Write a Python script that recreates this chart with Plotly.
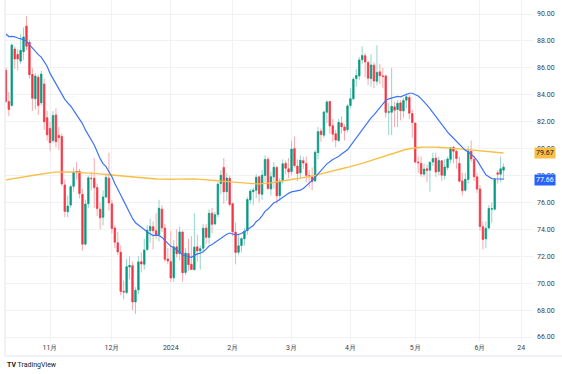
import plotly.graph_objects as go
import pandas as pd

dates = [
    "2023-10-11", "2023-10-12", "2023-10-13", "2023-10-16", "2023-10-17", "2023-10-18", "2023-10-19", "2023-10-20",
    "2023-10-23", "2023-10-24", "2023-10-25", "2023-10-26", "2023-10-27", "2023-10-30", "2023-10-31",
    "2023-11-01", "2023-11-02", "2023-11-03", "2023-11-06", "2023-11-07", "2023-11-08", "2023-11-09", "2023-11-10",
    "2023-11-13", "2023-11-14", "2023-11-15", "2023-11-16", "2023-11-17", "2023-11-20", "2023-11-21", "2023-11-22",
    "2023-11-24", "2023-11-27", "2023-11-28", "2023-11-29", "2023-11-30",
    "2023-12-01", "2023-12-04", "2023-12-05", "2023-12-06", "2023-12-07", "2023-12-08", "2023-12-11", "2023-12-12",
    "2023-12-13", "2023-12-14", "2023-12-15", "2023-12-18", "2023-12-19", "2023-12-20", "2023-12-21", "2023-12-22",
    "2023-12-26", "2023-12-27", "2023-12-28", "2023-12-29",
    "2024-01-02", "2024-01-03", "2024-01-04", "2024-01-05", "2024-01-08", "2024-01-09", "2024-01-10", "2024-01-11",
    "2024-01-12", "2024-01-16", "2024-01-17", "2024-01-18", "2024-01-19", "2024-01-22", "2024-01-23", "2024-01-24",
    "2024-01-25", "2024-01-26", "2024-01-29", "2024-01-30", "2024-01-31",
    "2024-02-01", "2024-02-02", "2024-02-05", "2024-02-06", "2024-02-07", "2024-02-08", "2024-02-09", "2024-02-12",
    "2024-02-13", "2024-02-14", "2024-02-15", "2024-02-16", "2024-02-20", "2024-02-21", "2024-02-22", "2024-02-23",
    "2024-02-26", "2024-02-27", "2024-02-28", "2024-02-29",
    "2024-03-01", "2024-03-04", "2024-03-05", "2024-03-06", "2024-03-07", "2024-03-08", "2024-03-11", "2024-03-12",
    "2024-03-13", "2024-03-14", "2024-03-15", "2024-03-18", "2024-03-19", "2024-03-20", "2024-03-21", "2024-03-22",
    "2024-03-25", "2024-03-26", "2024-03-27", "2024-03-28",
    "2024-04-01", "2024-04-02", "2024-04-03", "2024-04-04", "2024-04-05", "2024-04-08", "2024-04-09", "2024-04-10",
    "2024-04-11", "2024-04-12", "2024-04-15", "2024-04-16", "2024-04-17", "2024-04-18", "2024-04-19", "2024-04-22",
    "2024-04-23", "2024-04-24", "2024-04-25", "2024-04-26", "2024-04-29", "2024-04-30",
    "2024-05-01", "2024-05-02", "2024-05-03", "2024-05-06", "2024-05-07", "2024-05-08", "2024-05-09", "2024-05-10",
    "2024-05-13", "2024-05-14", "2024-05-15", "2024-05-16", "2024-05-17", "2024-05-20", "2024-05-21", "2024-05-22",
    "2024-05-23", "2024-05-24", "2024-05-28", "2024-05-29", "2024-05-30", "2024-05-31",
    "2024-06-03", "2024-06-04", "2024-06-05", "2024-06-06", "2024-06-07", "2024-06-10", "2024-06-11", "2024-06-12",
    "2024-06-13",
]

opens = [
    85.82, 83.50, 83.20, 87.40, 87.00, 86.50, 87.20, 89.10, 87.90, 85.50,
    83.70, 85.30, 83.40, 84.80, 82.30, 81.50, 80.60, 82.50, 80.98, 80.90,
    77.30, 75.30, 75.80, 77.20, 78.30, 78.30, 76.60, 72.90, 75.90, 77.80,
    77.80, 77.10, 75.50, 74.90, 76.40, 77.80, 75.90, 74.10, 73.00, 72.30,
    69.40, 69.30, 71.20, 71.30, 68.60, 69.50, 71.60, 71.40, 72.50, 73.90,
    74.20, 73.90, 73.60, 75.50, 74.10, 71.80, 71.60, 70.40, 72.70, 72.20,
    73.80, 70.80, 72.20, 71.40, 71.00, 72.70, 72.40, 72.60, 74.10, 73.40,
    75.20, 74.40, 75.10, 77.40, 78.60, 76.80, 77.80, 75.90, 73.80, 72.30,
    72.80, 73.30, 73.90, 76.20, 76.80, 76.90, 77.90, 76.60, 78.00, 79.20,
    77.00, 77.90, 78.60, 76.50, 77.60, 78.90, 78.50, 78.30, 80.00, 78.70,
    78.20, 79.10, 78.90, 78.00, 77.90, 77.60, 79.70, 81.30, 81.00, 82.70,
    83.50, 81.70, 81.10, 80.60, 81.90, 81.60, 81.40, 83.20, 83.70, 85.20,
    85.40, 86.60, 86.90, 86.40, 85.20, 86.20, 85.00, 85.70, 85.40, 85.40,
    82.70, 82.70, 83.10, 82.90, 83.40, 82.80, 83.60, 83.80, 82.60, 81.90,
    79.00, 78.90, 78.10, 78.50, 78.40, 79.00, 79.30, 78.30, 79.10, 78.00,
    78.60, 79.20, 80.10, 79.80, 78.90, 77.60, 76.90, 77.70, 79.80, 79.20,
    77.90, 77.00, 74.20, 73.30, 74.10, 75.50, 75.50, 78.20, 78.10, 78.40,
]

highs = [
    86.04, 84.20, 87.80, 87.60, 87.40, 88.50, 89.00, 89.85, 88.10, 86.00,
    85.60, 85.50, 85.80, 85.20, 82.80, 82.00, 82.80, 83.00, 81.60, 81.10,
    77.70, 76.50, 77.30, 78.60, 79.00, 78.50, 77.00, 76.20, 78.00, 78.30,
    79.30, 77.40, 76.00, 76.90, 78.10, 79.70, 76.20, 74.30, 73.80, 72.80,
    70.20, 71.80, 72.00, 71.60, 69.70, 72.00, 72.30, 73.30, 74.30, 74.80,
    74.60, 75.20, 76.20, 75.80, 74.40, 72.60, 73.90, 73.20, 74.00, 74.20,
    73.90, 72.60, 73.30, 73.50, 75.20, 73.60, 72.80, 74.40, 74.40, 75.50,
    75.60, 75.30, 77.50, 78.40, 79.29, 78.20, 78.00, 76.00, 74.50, 73.60,
    73.40, 74.10, 76.40, 77.00, 77.10, 78.10, 78.00, 78.40, 79.50, 79.40,
    78.30, 79.00, 78.70, 77.80, 79.20, 79.10, 79.30, 80.60, 80.90, 79.20,
    79.50, 79.40, 79.40, 78.40, 78.60, 79.90, 81.60, 81.50, 82.80, 83.60,
    83.50, 82.20, 81.40, 82.20, 82.40, 81.80, 83.30, 84.50, 85.30, 85.90,
    86.80, 87.60, 87.10, 86.50, 87.00, 86.40, 87.67, 86.30, 86.00, 85.50,
    83.40, 86.00, 83.50, 83.60, 83.60, 83.80, 84.10, 84.00, 82.90, 81.90,
    79.40, 79.40, 78.90, 78.80, 79.00, 79.70, 79.70, 79.40, 79.10, 79.20,
    79.40, 80.10, 80.20, 79.90, 79.40, 78.20, 78.20, 80.20, 80.60, 79.50,
    78.20, 77.30, 74.60, 74.60, 75.80, 76.00, 77.80, 78.40, 79.40, 78.90,
]

lows = [
    83.42, 82.40, 83.10, 85.90, 85.80, 86.30, 86.60, 87.30, 85.20, 82.80,
    82.90, 82.50, 83.20, 81.40, 80.60, 79.80, 80.40, 80.10, 79.90, 77.20,
    74.90, 74.90, 75.60, 76.80, 77.70, 76.30, 72.40, 72.80, 75.60, 76.90,
    75.60, 75.00, 74.00, 74.30, 76.30, 75.40, 73.70, 72.60, 72.10, 69.10,
    68.80, 69.20, 70.30, 68.00, 67.71, 69.20, 70.80, 71.00, 72.40, 73.00,
    72.50, 73.30, 73.10, 73.80, 71.60, 71.40, 70.10, 70.10, 71.90, 71.70,
    70.10, 70.60, 70.90, 71.00, 71.00, 71.60, 71.00, 72.30, 72.90, 72.90,
    73.70, 74.30, 74.90, 76.60, 75.90, 76.10, 75.70, 73.50, 71.40, 72.10,
    72.30, 72.80, 73.60, 75.90, 75.80, 76.30, 76.00, 76.20, 77.50, 76.90,
    76.50, 77.00, 75.90, 76.10, 77.40, 78.10, 77.80, 78.00, 78.60, 77.60,
    77.80, 78.50, 77.50, 77.10, 76.90, 77.50, 79.20, 80.50, 80.80, 81.90,
    81.10, 80.50, 80.10, 80.50, 81.10, 80.60, 81.20, 83.00, 83.60, 84.60,
    85.10, 86.30, 85.30, 84.70, 84.60, 84.50, 84.70, 84.80, 84.50, 82.30,
    81.00, 81.00, 81.60, 81.60, 82.10, 82.30, 83.00, 82.20, 80.80, 78.90,
    78.20, 77.90, 77.90, 77.50, 76.80, 78.70, 77.90, 78.00, 77.60, 77.70,
    78.40, 78.90, 78.90, 78.50, 77.50, 76.50, 76.80, 77.40, 79.00, 77.60,
    76.70, 73.90, 72.50, 72.60, 74.00, 74.50, 75.40, 77.40, 77.50, 77.70,
]

closes = [
    83.49, 82.91, 87.69, 86.66, 86.66, 87.30, 88.30, 87.60, 85.49, 83.74,
    85.39, 83.21, 85.54, 82.00, 81.02, 80.44, 82.46, 80.51, 80.82, 77.37,
    75.33, 75.74, 77.17, 78.26, 78.26, 76.66, 72.90, 75.89, 77.83, 77.77,
    77.10, 75.54, 74.86, 76.41, 77.86, 75.96, 74.07, 73.04, 72.32, 69.38,
    69.34, 71.23, 71.32, 68.61, 69.47, 71.58, 71.43, 72.47, 73.94, 74.22,
    73.89, 73.56, 75.57, 74.11, 71.77, 71.65, 70.38, 72.70, 72.19, 73.81,
    70.77, 72.24, 71.37, 71.02, 72.68, 72.40, 72.56, 74.08, 73.41, 75.19,
    74.37, 75.09, 77.36, 78.01, 76.78, 77.82, 75.85, 73.82, 72.28, 72.78,
    73.31, 73.86, 76.22, 76.84, 76.92, 77.87, 76.64, 78.03, 79.19, 77.04,
    77.91, 78.61, 76.49, 77.58, 78.87, 78.54, 78.26, 79.97, 78.74, 78.15,
    79.13, 78.93, 78.01, 77.93, 77.56, 79.72, 81.26, 81.04, 82.72, 83.47,
    81.68, 81.07, 80.63, 81.95, 81.62, 81.35, 83.17, 83.71, 85.15, 85.43,
    86.59, 86.91, 86.43, 85.23, 86.21, 85.02, 85.66, 85.41, 85.36, 82.69,
    82.73, 83.14, 82.85, 83.36, 82.81, 83.57, 83.85, 82.63, 81.93, 79.00,
    78.95, 78.11, 78.48, 78.38, 78.99, 79.26, 78.26, 79.12, 78.02, 78.63,
    79.23, 80.06, 79.80, 79.26, 77.57, 76.87, 77.72, 79.83, 79.23, 77.91,
    76.99, 74.22, 73.25, 74.07, 75.55, 75.53, 77.74, 78.09, 78.50, 78.62,
]

# closes before the first visible bar (warm-up for the 25-day average)
prior_closes = [
    87.54, 87.51, 87.29, 88.84, 88.52, 90.16, 90.77, 91.48, 91.20, 90.28,
    89.63, 90.03, 89.68, 90.39, 93.68, 91.71, 90.79, 88.82, 89.23, 84.22,
    82.31, 82.79, 86.38, 85.97,
]

# 200-day moving average
ma200 = [
    77.68, 77.71, 77.74, 77.77, 77.80, 77.84, 77.88, 77.92, 77.96, 78.00,
    78.04, 78.08, 78.12, 78.16, 78.19, 78.21, 78.23, 78.25, 78.26, 78.27,
    78.27, 78.27, 78.26, 78.25, 78.24, 78.23, 78.22, 78.20, 78.18, 78.17,
    78.15, 78.13, 78.12, 78.10, 78.08, 78.06, 78.03, 78.00, 77.97, 77.94,
    77.91, 77.89, 77.87, 77.85, 77.83, 77.81, 77.79, 77.78, 77.77, 77.76,
    77.75, 77.74, 77.73, 77.72, 77.71, 77.71, 77.71, 77.72, 77.73, 77.74,
    77.75, 77.75, 77.75, 77.75, 77.74, 77.73, 77.72, 77.71, 77.69, 77.67,
    77.65, 77.63, 77.61, 77.58, 77.56, 77.53, 77.51, 77.49, 77.47, 77.45,
    77.43, 77.42, 77.40, 77.39, 77.38, 77.38, 77.38, 77.39, 77.40, 77.42,
    77.45, 77.49, 77.53, 77.58, 77.63, 77.66, 77.69, 77.72, 77.75, 77.78,
    77.81, 77.84, 77.87, 77.90, 77.94, 78.00, 78.06, 78.12, 78.18, 78.24,
    78.30, 78.36, 78.42, 78.47, 78.52, 78.56, 78.60, 78.65, 78.70, 78.76,
    78.83, 78.90, 78.97, 79.04, 79.11, 79.18, 79.26, 79.34, 79.42, 79.50,
    79.58, 79.65, 79.72, 79.78, 79.84, 79.90, 79.95, 79.99, 80.03, 80.06,
    80.08, 80.10, 80.11, 80.12, 80.12, 80.12, 80.11, 80.10, 80.09, 80.08,
    80.06, 80.04, 80.02, 80.00, 79.98, 79.96, 79.94, 79.91, 79.88, 79.85,
    79.83, 79.81, 79.79, 79.77, 79.75, 79.73, 79.71, 79.70, 79.68, 79.67,
]

ma_label_values = [79.67, 77.66]  # orange (200), blue (25)

tick_positions = ["2023-11-01", "2023-12-01", "2024-01-02", "2024-02-01", "2024-03-01",
                  "2024-04-01", "2024-05-01", "2024-06-03"]
tick_labels = ["11月", "12月", "2024", "2月", "3月", "4月", "5月", "6月", "24"]
extra_tick_offset = 14  # trading days from 2024-06-03 to 2024-06-24
price_ticks = list(range(66, 91, 2))

# ---------------------------------------------------------------
n = len(dates)
idx = list(range(n))
ma25 = pd.Series(prior_closes + closes).rolling(25).mean().tolist()[len(prior_closes):]
body_hi = [max(o, c) for o, c in zip(opens, closes)]
body_lo = [min(o, c) for o, c in zip(opens, closes)]

tickvals = [dates.index(d) for d in tick_positions]
tickvals.append(tickvals[-1] + extra_tick_offset)

UP, DOWN = "#089981", "#f23645"
UP_W, DOWN_W = "#93d6c9", "#f8a9ae"

fig = go.Figure()
fig.add_trace(go.Candlestick(
    x=idx, open=opens, high=highs, low=lows, close=closes,
    increasing=dict(line=dict(color=UP_W, width=1), fillcolor=UP_W),
    decreasing=dict(line=dict(color=DOWN_W, width=1), fillcolor=DOWN_W),
    whiskerwidth=0, hoverinfo="skip", showlegend=False))
fig.add_trace(go.Candlestick(
    x=idx, open=opens, high=body_hi, low=body_lo, close=closes,
    increasing=dict(line=dict(color=UP, width=0.5), fillcolor=UP),
    decreasing=dict(line=dict(color=DOWN, width=0.5), fillcolor=DOWN),
    whiskerwidth=0, text=dates, showlegend=False))
fig.add_trace(go.Scatter(x=idx, y=ma200, mode="lines",
                         line=dict(color="#f7bf45", width=1.4), showlegend=False))
fig.add_trace(go.Scatter(x=idx, y=ma25, mode="lines",
                         line=dict(color="#3f73f6", width=1.2), showlegend=False))

font = "Roboto, Arial, sans-serif"
fig.update_layout(
    width=562, height=374,
    margin=dict(l=5, r=29, t=0, b=32, autoexpand=False),
    paper_bgcolor="white", plot_bgcolor="white",
    showlegend=False,
    font=dict(family=font, size=7, color="#3b3e48"),
    xaxis=dict(
        range=[-0.3, 179], tickmode="array", tickvals=tickvals, ticktext=tick_labels,
        showgrid=True, gridcolor="#f1f2f5", gridwidth=1, zeroline=False, showline=False,
        ticks="", tickfont=dict(size=7, color="#3b3e48"), rangeslider=dict(visible=False),
        fixedrange=True, automargin=False,
    ),
    yaxis=dict(
        side="right", range=[65.63, 91.04], tickmode="array", tickvals=price_ticks,
        tickformat=".2f", showgrid=True, gridcolor="#f1f2f5", gridwidth=1,
        zeroline=False, showline=False, ticks="", ticklabelstandoff=3,
        tickfont=dict(size=7, color="#3b3e48"), fixedrange=True, automargin=False,
    ),
    shapes=[
        dict(type="line", xref="paper", yref="paper", x0=0, x1=1.06, y0=-0.041, y1=-0.041,
             line=dict(color="#e3e5ea", width=1)),
        dict(type="line", xref="paper", yref="paper", x0=0, x1=0, y0=-0.041, y1=1,
             line=dict(color="#e3e5ea", width=1)),
    ],
    annotations=[
        dict(x=1, xref="paper", y=ma_label_values[0], yref="y", xanchor="left", xshift=1,
             text=f"{ma_label_values[0]:.2f}", showarrow=False, bgcolor="#f7bf45",
             font=dict(size=7, color="#131722"), borderpad=1),
        dict(x=1, xref="paper", y=ma_label_values[1], yref="y", xanchor="left", xshift=1,
             text=f"{ma_label_values[1]:.2f}", showarrow=False, bgcolor="#2962ff",
             font=dict(size=7, color="white"), borderpad=1),
        dict(x=0, xref="paper", y=-0.068, yref="paper", xanchor="left", yanchor="middle",
             text="<b>TV</b> TradingView", showarrow=False,
             font=dict(size=7, color="#131722")),
    ],
)

fig.write_html("out.html", config={"displayModeBar": False},
               post_script="document.body.style.margin='0';document.body.style.overflow='hidden';")
